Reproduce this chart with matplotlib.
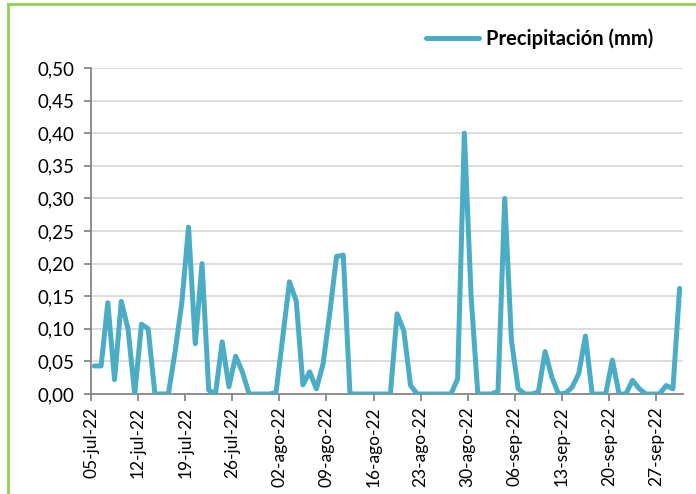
import matplotlib
matplotlib.use('Agg')
import matplotlib.pyplot as plt
import numpy as np
from datetime import date, timedelta
from matplotlib.lines import Line2D

plt.rcParams['font.family'] = ['Lato', 'DejaVu Sans']

# Daily precipitation, 05-jul-22 .. 30-sep-22
start = date(2022, 7, 5)
precip = [
    0.043, 0.043, 0.140, 0.022, 0.142, 0.100, 0.000, 0.107, 0.100, 0.000,
    0.000, 0.000, 0.065, 0.140, 0.256, 0.077, 0.200, 0.006, 0.000, 0.080,
    0.011, 0.058, 0.034, 0.000, 0.000, 0.000, 0.000, 0.002, 0.087, 0.172,
    0.143, 0.014, 0.034, 0.008, 0.046, 0.125, 0.211, 0.213, 0.000, 0.000,
    0.000, 0.000, 0.000, 0.000, 0.000, 0.123, 0.097, 0.013, 0.000, 0.000,
    0.000, 0.000, 0.000, 0.000, 0.023, 0.400, 0.150, 0.000, 0.000, 0.000,
    0.004, 0.300, 0.082, 0.008, 0.000, 0.000, 0.003, 0.065, 0.026, 0.000,
    0.001, 0.010, 0.031, 0.089, 0.000, 0.000, 0.000, 0.052, 0.000, 0.000,
    0.021, 0.008, 0.000, 0.000, 0.000, 0.013, 0.008, 0.162,
]
days = np.arange(len(precip))
months = {7: 'jul', 8: 'ago', 9: 'sep'}
tick_days = np.arange(0, len(precip), 7)
tick_labels = []
for d in tick_days:
    dt = start + timedelta(days=int(d))
    tick_labels.append(f"{dt.day:02d}-{months[dt.month]}-{dt.year % 100}")

line_color = '#4BACC6'
axis_color = '#868686'

fig = plt.figure(figsize=(6.96, 4.94), dpi=100)
ax = fig.add_axes([91/696, 1 - 394/494, (683 - 91)/696, (394 - 68)/494])

ax.plot(days, precip, color=line_color, linewidth=3.6,
        solid_joinstyle='round', solid_capstyle='round', zorder=3)

ax.set_xlim(-0.5, len(precip) - 0.5)
ax.set_ylim(0, 0.5)
ax.set_yticks(np.arange(0, 0.501, 0.05))
ax.set_yticklabels([f"{v:.2f}".replace('.', ',') for v in np.arange(0, 0.501, 0.05)])
ax.set_xticks(tick_days - 0.5)
ax.set_xticklabels(tick_labels, rotation=90)

ax.grid(axis='y', color='#d9d9d9', linewidth=1.3)
ax.set_axisbelow(True)
for s in ['top', 'right']:
    ax.spines[s].set_visible(False)
for s in ['left', 'bottom']:
    ax.spines[s].set_color(axis_color)
    ax.spines[s].set_linewidth(1.3)
ax.tick_params(axis='both', colors=axis_color, length=5, width=1.3,
               labelsize=12.5, labelcolor='black')
ax.tick_params(axis='y', labelsize=13.5, pad=7)
ax.tick_params(axis='x', pad=4)

handle = Line2D([], [], color=line_color, linewidth=3.6, solid_capstyle='round')
leg = fig.legend([handle], ['Precipitación (mm)'], loc='upper right',
                 bbox_to_anchor=(671/696, 1 - 10/494), frameon=False,
                 handlelength=2.6, handletextpad=0.35,
                 prop={'weight': 'bold', 'size': 14.5})

# green chart border
fig.add_artist(Line2D([8/696, 8/696], [0, 1 - 4/494], color='#92D050',
                      linewidth=2, transform=fig.transFigure))
fig.add_artist(Line2D([8/696, 1], [1 - 4/494, 1 - 4/494], color='#92D050',
                      linewidth=2, transform=fig.transFigure))

fig.savefig('out.png', dpi=100)
